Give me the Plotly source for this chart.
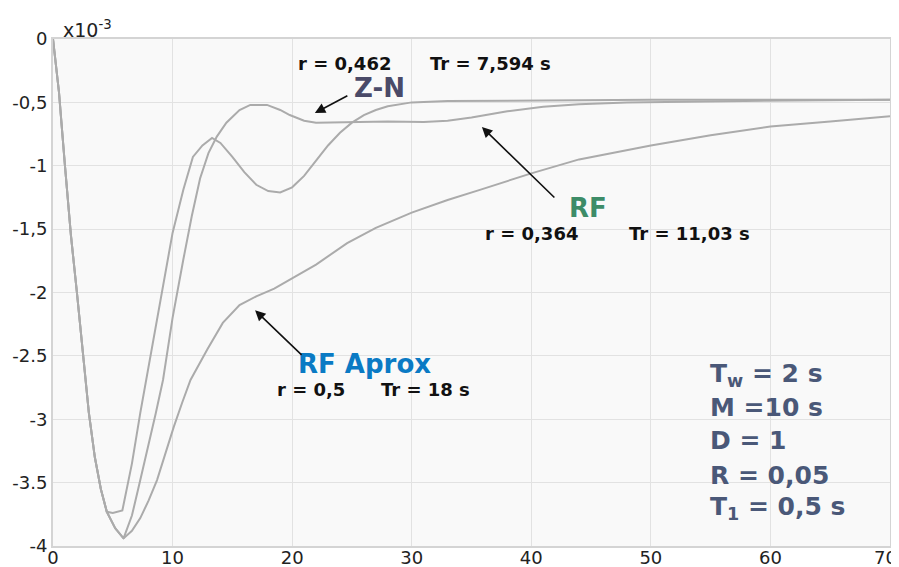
import plotly.graph_objects as go

# ---- data (values in units of 1e-3) ----
t_zn = [0, 0.5, 1, 1.5, 2, 2.5, 3, 3.5, 4, 4.5, 5.2, 5.9, 6.6, 7.3, 8.0, 8.6, 9.2, 10.0, 10.9, 11.6,
        12.3, 13.0, 13.7, 14.5, 15.6, 16.5, 17.9, 19.0, 19.8, 21.0, 22.0, 25.0, 28.0, 31.0, 33.0,
        35.0, 38.0, 41.0, 44.0, 48.0, 55.0, 62.0, 70.0]
v_zn = [0, -0.42, -1.0, -1.55, -2.0, -2.5, -2.95, -3.3, -3.55, -3.73, -3.86, -3.94, -3.76, -3.48,
        -3.2, -2.95, -2.69, -2.2, -1.74, -1.4, -1.1, -0.9, -0.77, -0.66, -0.56, -0.52, -0.52, -0.56,
        -0.6, -0.645, -0.66, -0.655, -0.65, -0.655, -0.645, -0.62, -0.57, -0.535, -0.515, -0.5,
        -0.49, -0.485, -0.48]

t_rf = [0, 0.5, 1, 1.5, 2, 2.5, 3, 3.5, 4, 4.5, 5.0, 5.8, 6.6, 7.3, 7.8, 8.7, 9.4, 10.0, 10.9, 11.7,
        12.5, 13.3, 14.0, 15.0, 16.0, 17.0, 18.0, 19.0, 20.0, 21.0, 22.0, 23.0, 24.0, 25.0, 26.0,
        27.0, 28.0, 30.0, 33.0, 40.0, 50.0, 60.0, 70.0]
v_rf = [0, -0.42, -1.0, -1.55, -2.0, -2.5, -2.95, -3.3, -3.55, -3.73, -3.74, -3.72, -3.35, -2.95,
        -2.69, -2.2, -1.85, -1.53, -1.19, -0.93, -0.84, -0.78, -0.82, -0.93, -1.05, -1.15, -1.2,
        -1.21, -1.17, -1.08, -0.96, -0.84, -0.74, -0.66, -0.6, -0.56, -0.53, -0.5, -0.49, -0.485,
        -0.48, -0.48, -0.48]

t_ap = [0, 0.5, 1, 1.5, 2, 2.5, 3, 3.5, 4, 4.5, 5.2, 5.9, 6.6, 7.3, 8.0, 8.7, 9.4, 10.1, 10.8, 11.5,
        12.9, 14.2, 15.6, 17.0, 18.5, 19.8, 22.0, 24.6, 27.0, 30.0, 33.0, 35.7, 40.0, 44.0, 50.0,
        55.0, 60.0, 65.0, 70.0]
v_ap = [0, -0.42, -1.0, -1.55, -2.0, -2.5, -2.95, -3.3, -3.55, -3.73, -3.86, -3.94, -3.88, -3.78,
        -3.64, -3.48, -3.27, -3.06, -2.87, -2.69, -2.45, -2.24, -2.1, -2.03, -1.97, -1.9, -1.78,
        -1.61, -1.49, -1.37, -1.27, -1.19, -1.06, -0.95, -0.84, -0.76, -0.69, -0.65, -0.61]

x_ticks = [0, 10, 20, 30, 40, 50, 60, 70]
y_ticks = [-4, -3.5, -3, -2.5, -2, -1.5, -1, -0.5, 0]
y_tick_text = ["-4", "-3.5", "-3", "-2.5", "-2", "-1,5", "-1", "-0,5", "0"]

params = ["T<sub>w</sub> = 2 s", "M =10 s", "D = 1", "R = 0,05", "T<sub>1</sub> = 0,5 s"]
params_y = [-2.651, -2.905, -3.17, -3.44, -3.70]

line_style = dict(color="#ababab", width=2)

fig = go.Figure()
for name, tx, vy in [("Z-N", t_zn, v_zn), ("RF", t_rf, v_rf), ("RF Aprox", t_ap, v_ap)]:
    fig.add_trace(go.Scatter(x=tx, y=vy, mode="lines", name=name, line=line_style,
                             showlegend=False, hoverinfo="skip"))

bold_font = dict(family="DejaVu Sans", size=18, color="#111111")
label_font = lambda c, s=25: dict(family="DejaVu Sans", size=s, color=c)

ann = []
def txt(x, y, s, font):
    ann.append(dict(x=x, y=y, xref="x", yref="y", text="<b>" + s + "</b>", showarrow=False,
                    xanchor="left", yanchor="middle", font=font))

txt(20.35, -0.197, "r = 0,462", bold_font)
txt(31.4, -0.197, "Tr = 7,594 s", bold_font)
txt(25.0, -0.387, "Z-N", label_font("#4a4a68", 26))
txt(42.98, -1.333, "RF", label_font("#3d8c68", 26))
txt(35.95, -1.538, "r = 0,364", bold_font)
txt(48.0, -1.538, "Tr = 11,03 s", bold_font)
txt(20.3, -2.564, "RF Aprox", label_font("#0a7ac4", 26))
txt(18.6, -2.769, "r = 0,5", bold_font)
txt(27.3, -2.769, "Tr = 18 s", bold_font)
for s, yy in zip(params, params_y):
    txt(54.77, yy, s, label_font("#4a5878", 25))

# arrows
for (x, y, ax, ay) in [(21.9, -0.584, 34, -18), (35.87, -0.694, 74, 72), (16.9, -2.14, 48, 46)]:
    ann.append(dict(x=x, y=y, xref="x", yref="y", ax=ax, ay=ay, text="", showarrow=True,
                    arrowhead=2, arrowsize=1.3, arrowwidth=1.6, arrowcolor="#111111"))

ann.append(dict(x=(61 - 53) / 837, y=1 + (39 - 29) / 507, xref="paper", yref="paper",
                text="x10<sup>-3</sup>", showarrow=False, xanchor="left", yanchor="middle",
                font=dict(family="DejaVu Sans", size=19, color="#222222")))

# last x tick label sits at the right edge; draw it right-aligned so it is not clipped
x_tick_text = [str(v) for v in x_ticks[:-1]] + [""]
ann.append(dict(x=1 + 8 / 837, y=0, xref="paper", yref="paper", text=str(x_ticks[-1]),
                showarrow=False, xanchor="right", yanchor="top", yshift=0, borderpad=0,
                font=dict(family="DejaVu Sans", size=18, color="#222222")))

# the page body adds an 8px offset, so the figure is 891x559 with margins reduced by 8
fig.update_layout(
    width=891, height=559,
    margin=dict(l=45, r=9, t=31, b=21, autoexpand=False),
    paper_bgcolor="white", plot_bgcolor="#f9f9f9",
    annotations=ann,
    font=dict(family="DejaVu Sans", size=18, color="#222222"),
)
fig.update_xaxes(range=[0, 70], tickvals=x_ticks, ticktext=x_tick_text, ticks="", showgrid=True,
                 gridcolor="#e2e2e2", gridwidth=1, showline=True, linecolor="#d4d4d4",
                 linewidth=2, mirror=True, zeroline=False, tickfont=dict(size=18),
                 automargin=False, ticklabelstandoff=-6, ticklabeloverflow="allow")
fig.update_yaxes(range=[-4, 0], tickvals=y_ticks, ticktext=y_tick_text, ticks="", showgrid=True,
                 gridcolor="#e2e2e2", gridwidth=1, showline=True, linecolor="#d4d4d4",
                 linewidth=2, mirror=True, zeroline=False, tickfont=dict(size=18),
                 automargin=False, ticklabeloverflow="allow")

fig.write_html("out.html")
